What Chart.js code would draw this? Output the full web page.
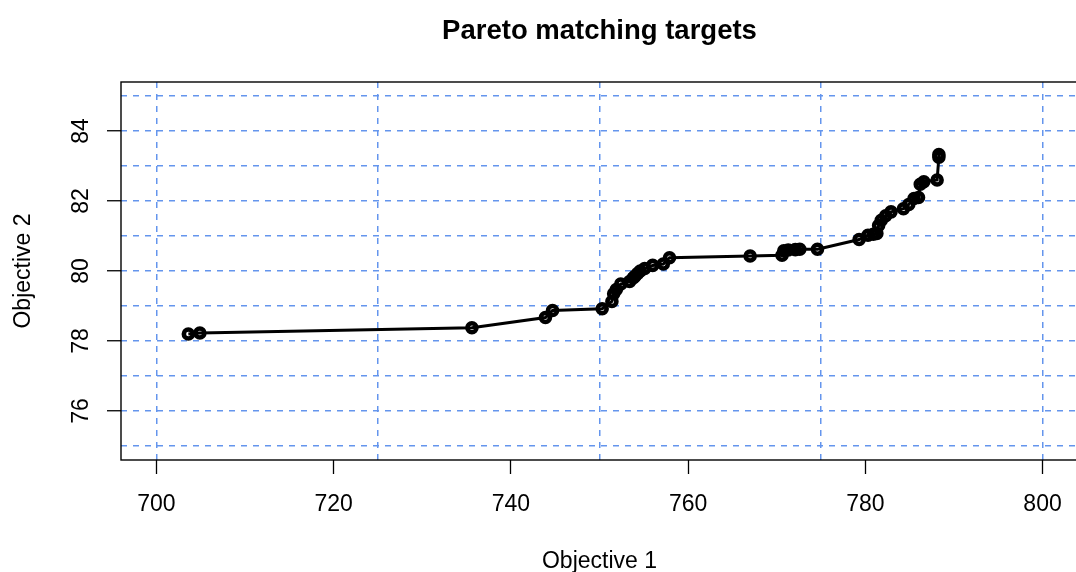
<!DOCTYPE html>
<html>
<head>
<meta charset="utf-8">
<title>Pareto matching targets</title>
<script src="https://cdn.jsdelivr.net/npm/chart.js@4/dist/chart.umd.min.js"></script>
<style>
    html, body { margin: 0; padding: 0; background: #fff; overflow: hidden; }
    #wrap { width: 1090px; height: 572px; }
</style>
</head>
<body>
<div id="wrap"><canvas id="paretoChart" width="1090" height="572"></canvas></div>
<script>
// Data
const objective1 = [703.6, 704.9, 735.6, 743.9, 744.7, 750.3, 751.4, 751.6, 751.9, 752.4,
    753.4, 753.8, 754.0, 754.3, 754.6, 755.1, 756.0, 757.2, 757.9, 767.0,
    770.6, 770.8, 771.3, 772.1, 772.6, 774.6, 779.3, 780.3, 780.9, 781.3,
    781.5, 781.8, 782.3, 782.9, 784.3, 784.9, 785.5, 786.0, 786.2, 786.6,
    788.1, 788.3, 788.3];
const objective2 = [78.20, 78.23, 78.38, 78.67, 78.87, 78.92, 79.13, 79.35, 79.47, 79.63,
    79.70, 79.80, 79.85, 79.93, 80.00, 80.07, 80.16, 80.20, 80.38, 80.43,
    80.45, 80.58, 80.60, 80.61, 80.62, 80.62, 80.90, 81.02, 81.05, 81.07,
    81.30, 81.45, 81.58, 81.69, 81.78, 81.90, 82.07, 82.10, 82.48, 82.55,
    82.60, 83.25, 83.33];

const xTicks = [700, 720, 740, 760, 780, 800];
const xGrid = [700, 725, 750, 775, 800];
const yGrid = [75, 76, 77, 78, 79, 80, 81, 82, 83, 84, 85];
const yTicks = [76, 78, 80, 82, 84];

const FONT = "'Liberation Sans', Arial, Helvetica, sans-serif";
const GRID_BLUE = '#6495ED';

// box round the plot region, like R's box()
const boxPlugin = {
    id: 'plotBox',
    afterDraw(chart) {
        const { ctx, chartArea: a } = chart;
        ctx.save();
        ctx.strokeStyle = '#000';
        ctx.lineWidth = 1.4;
        ctx.strokeRect(a.left, a.top, a.right - a.left, a.bottom - a.top);
        ctx.restore();
    }
};

function buildChart() {
    const ctx = document.getElementById('paretoChart');
    const points = objective1.map((x, i) => ({ x: x, y: objective2[i] }));

    return new Chart(ctx, {
        type: 'scatter',
        data: {
            datasets: [{
                data: points,
                showLine: true,
                borderColor: '#000',
                borderWidth: 3,
                pointRadius: 4.5,
                pointBorderWidth: 4.6,
                pointBorderColor: '#000',
                pointBackgroundColor: 'rgba(0,0,0,0)',
                tension: 0
            }]
        },
        options: {
            responsive: false,
            animation: false,
            layout: { padding: { left: 0, right: 12, top: 0, bottom: 0 } },
            plugins: {
                legend: { display: false },
                tooltip: { enabled: false },
                title: {
                    display: true,
                    text: 'Pareto matching targets',
                    color: '#000',
                    fullSize: false,
                    font: { family: FONT, size: 27.5, weight: 'bold', lineHeight: 1.2 },
                    padding: { top: 15, bottom: 34 }
                }
            },
            scales: {
                x: {
                    type: 'linear',
                    position: 'bottom',
                    min: 696,
                    max: 804,
                    afterBuildTicks: axis => { axis.ticks = xTicks.map(v => ({ value: v })); },
                    afterFit: axis => { axis.height = 112; },
                    grid: {
                        drawOnChartArea: false,
                        drawTicks: true,
                        tickLength: 14,
                        tickColor: '#000',
                        tickWidth: 1.3
                    },
                    border: { display: false },
                    ticks: {
                        color: '#000',
                        padding: 19,
                        maxRotation: 0,
                        font: { family: FONT, size: 23, lineHeight: 1 }
                    },
                    title: {
                        display: true,
                        text: 'Objective 1',
                        color: '#000',
                        font: { family: FONT, size: 23, lineHeight: 0.92 },
                        padding: { top: 0, bottom: 0 }
                    }
                },
                xg: {
                    type: 'linear',
                    position: 'top',
                    min: 696,
                    max: 804,
                    afterBuildTicks: axis => { axis.ticks = xGrid.map(v => ({ value: v })); },
                    afterFit: axis => { axis.height = 0; },
                    grid: {
                        color: GRID_BLUE,
                        lineWidth: 1.5,
                        drawTicks: false,
                        tickLength: 0
                    },
                    border: { display: false, dash: [6, 6] },
                    ticks: { display: false }
                },
                y: {
                    type: 'linear',
                    position: 'left',
                    min: 74.6,
                    max: 85.4,
                    afterBuildTicks: axis => { axis.ticks = yGrid.map(v => ({ value: v })); },
                    afterFit: axis => { axis.width = 121; },
                    grid: {
                        color: GRID_BLUE,
                        lineWidth: 1.5,
                        drawTicks: true,
                        tickLength: 14,
                        tickWidth: 1.3,
                        tickColor: c => (c.tick && yTicks.includes(c.tick.value)) ? '#000' : 'rgba(0,0,0,0)',
                        tickBorderDash: []
                    },
                    border: { display: false, dash: [6, 6] },
                    ticks: {
                        color: '#000',
                        padding: 13,
                        minRotation: 90,
                        maxRotation: 90,
                        crossAlign: 'center',
                        font: { family: FONT, size: 23, lineHeight: 1 },
                        callback: v => yTicks.includes(v) ? String(v) : ''
                    },
                    title: {
                        display: true,
                        text: 'Objective 2',
                        color: '#000',
                        font: { family: FONT, size: 23, lineHeight: 1 },
                        padding: { top: 12.5, bottom: 0 }
                    }
                }
            }
        },
        plugins: [boxPlugin]
    });
}

document.addEventListener('DOMContentLoaded', () => {
    window.paretoChart = buildChart();
});
</script>
</body>
</html>
